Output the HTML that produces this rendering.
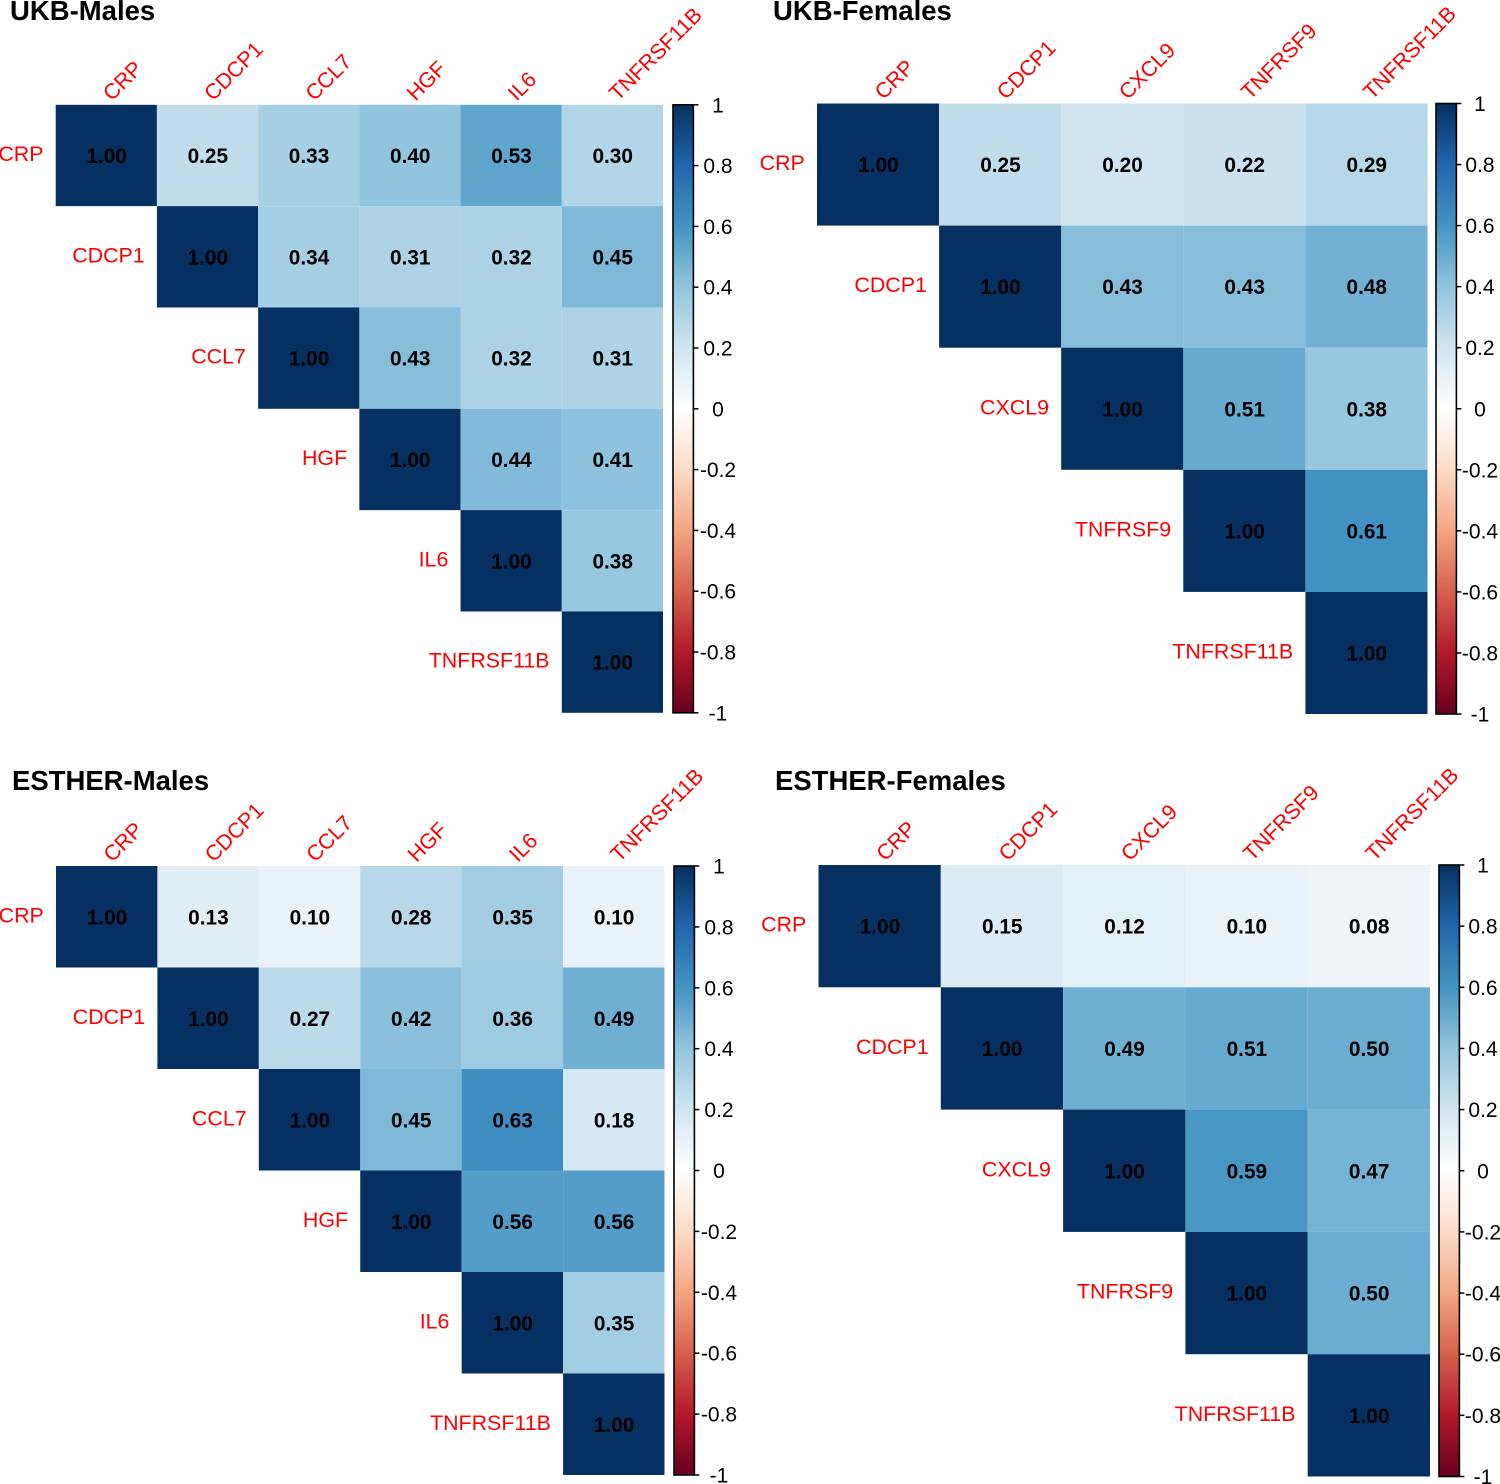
<!DOCTYPE html>
<html lang="en">
<head>
<meta charset="utf-8">
<title>Correlation matrices</title>
<style>
html,body{margin:0;padding:0;background:#fff;width:1500px;height:1484px;overflow:hidden}
svg{display:block}
text{font-family:"Liberation Sans",Arial,sans-serif}
</style>
</head>
<body>
<svg id="chart" xmlns="http://www.w3.org/2000/svg" width="1500" height="1484" viewBox="0 0 1500 1484"></svg>
<script>
const maleLabels = ["CRP","CDCP1","CCL7","HGF","IL6","TNFRSF11B"];
const femaleLabels = ["CRP","CDCP1","CXCL9","TNFRSF9","TNFRSF11B"];
const ukbMalesValues = [
  [1.00,0.25,0.33,0.40,0.53,0.30],
  [1.00,0.34,0.31,0.32,0.45],
  [1.00,0.43,0.32,0.31],
  [1.00,0.44,0.41],
  [1.00,0.38],
  [1.00]
];
const ukbFemalesValues = [
  [1.00,0.25,0.20,0.22,0.29],
  [1.00,0.43,0.43,0.48],
  [1.00,0.51,0.38],
  [1.00,0.61],
  [1.00]
];
const estherMalesValues = [
  [1.00,0.13,0.10,0.28,0.35,0.10],
  [1.00,0.27,0.42,0.36,0.49],
  [1.00,0.45,0.63,0.18],
  [1.00,0.56,0.56],
  [1.00,0.35],
  [1.00]
];
const estherFemalesValues = [
  [1.00,0.15,0.12,0.10,0.08],
  [1.00,0.49,0.51,0.50],
  [1.00,0.59,0.47],
  [1.00,0.50],
  [1.00]
];
const colorbarTicks = [1,0.8,0.6,0.4,0.2,0,-0.2,-0.4,-0.6,-0.8,-1];
const paletteStops = ["#67001F","#B2182B","#D6604D","#F4A582","#FDDBC7","#FFFFFF","#D1E5F0","#92C5DE","#4393C3","#2166AC","#053061"];

const panels = [
  {key:"ukb-males",title:"UKB-Males",labels:maleLabels,values:ukbMalesValues,
   titleX:10,titleY:20,left:55.7,right:663,top:104.8,bottom:712.8,barL:673,barR:693.4,tickLabelX:718},
  {key:"ukb-females",title:"UKB-Females",labels:femaleLabels,values:ukbFemalesValues,
   titleX:773,titleY:20,left:817,right:1427.5,top:103.5,bottom:714,barL:1436,barR:1456.4,tickLabelX:1480},
  {key:"esther-males",title:"ESTHER-Males",labels:maleLabels,values:estherMalesValues,
   titleX:12,titleY:790,left:56,right:664.5,top:866,bottom:1475,barL:674,barR:694.4,tickLabelX:719},
  {key:"esther-females",title:"ESTHER-Females",labels:femaleLabels,values:estherFemalesValues,
   titleX:775,titleY:790,left:818.5,right:1430,top:865,bottom:1476.5,barL:1439,barR:1459.4,tickLabelX:1483}
];

const NS = "http://www.w3.org/2000/svg";
const root = document.getElementById("chart");

function make(tag, attrs, parent, txt) {
  const el = document.createElementNS(NS, tag);
  for (const k in attrs) el.setAttribute(k, attrs[k]);
  if (txt !== undefined) el.textContent = txt;
  parent.appendChild(el);
  return el;
}
function hexToRgb(h) {
  return [parseInt(h.slice(1,3),16),parseInt(h.slice(3,5),16),parseInt(h.slice(5,7),16)];
}
function colorFor(v) {
  const t = Math.max(0, Math.min(1, (v + 1) / 2)) * (paletteStops.length - 1);
  const i = Math.min(paletteStops.length - 2, Math.floor(t));
  const f = t - i;
  const a = hexToRgb(paletteStops[i]);
  const b = hexToRgb(paletteStops[i + 1]);
  return "rgb(" + a.map((c, k) => Math.round(c + (b[k] - c) * f)).join(",") + ")";
}

const defs = make("defs", {}, root);
const gradient = make("linearGradient", {id:"rdbu",x1:"0",y1:"1",x2:"0",y2:"0"}, defs);
paletteStops.forEach((c, i) => {
  make("stop", {offset:i / (paletteStops.length - 1),"stop-color":c}, gradient);
});

panels.forEach(p => {
  const n = p.labels.length;
  const xScale = i => p.left + (p.right - p.left) * i / n;
  const yScale = i => p.top + (p.bottom - p.top) * i / n;
  const barScale = v => p.bottom - (v + 1) / 2 * (p.bottom - p.top);

  const g = make("g", {}, root);
  
  

  const title = make("text", {x:p.titleX,y:p.titleY,"font-size":"27.5","font-weight":"700",fill:"#000"}, g, p.title);
  
  

  p.values.forEach((row, r) => {
    row.forEach((v, k) => {
      const c = r + k;
      const cell = make("rect", {x:xScale(c),y:yScale(r),width:xScale(c+1)-xScale(c),height:yScale(r+1)-yScale(r),fill:colorFor(v)}, g);
      
      
    });
  });
  p.values.forEach((row, r) => {
    row.forEach((v, k) => {
      const c = r + k;
      const label = make("text", {x:(xScale(c)+xScale(c+1))/2+0.3,y:(yScale(r)+yScale(r+1))/2+7.5,"font-size":"20.8","font-weight":"700","text-anchor":"middle",fill:"#000"}, g, v.toFixed(2));
      
      
    });
  });

  p.labels.forEach((name, i) => {
    const rowLabel = make("text", {x:xScale(i)-12.2,y:(yScale(i)+yScale(i+1))/2+5.5,"font-size":"21.4","text-anchor":"end",fill:"#ff0000"}, g, name);
    
    

    const cx = (xScale(i) + xScale(i+1)) / 2;
    const cy = p.top - 3;
    const colLabel = make("text", {x:cx + 5.5,y:cy,"font-size":"21.4",fill:"#ff0000",transform:"rotate(-45 " + (cx + 5.5) + " " + cy + ")"}, g, name);
    
    
  });

  const bar = make("rect", {x:p.barL,y:p.top,width:p.barR-p.barL,height:p.bottom-p.top,fill:"url(#rdbu)",stroke:"#000","stroke-width":"1.6"}, g);
  
  

  colorbarTicks.forEach(t => {
    const y = barScale(t);
    const mark = make("line", {x1:p.barR,x2:p.barR+5,y1:y,y2:y,stroke:"#000","stroke-width":"1.5"}, g);
    
    

    const tl = make("text", {x:p.tickLabelX,y:y+7.5,"font-size":"21","text-anchor":"middle",fill:"#000"}, g, String(t));
    
    
  });
});
</script>
</body>
</html>
